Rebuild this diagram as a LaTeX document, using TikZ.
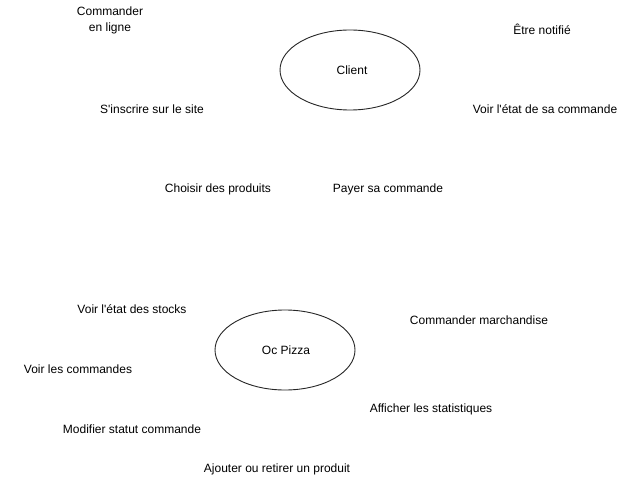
\documentclass[tikz,border=0pt]{standalone}
\usepackage{fontspec}
\setmainfont{Liberation Sans}
\usetikzlibrary{shapes.geometric}
\begin{document}
\begin{tikzpicture}[x=1pt,y=-1pt,
  lbl/.style={inner sep=0pt, align=center, font=\fontsize{12}{16}\selectfont},
  actor/.style={draw=black!85, line width=0.9pt, ellipse, minimum width=140pt, minimum height=80pt, inner sep=0pt}]
\fill[white] (0,0) rectangle (636,481);
\useasboundingbox (0,0) rectangle (636,481);
\node[actor] (client) at (350,70) {};
\node[lbl] (clientlbl) at (352,70) {Client};
\node[actor] (ocpizza) at (285,350) {};
\node[lbl] (ocpizzalbl) at (286,350) {Oc Pizza};
\node[lbl] (cmdligne) at (110,20) {Commander\\en ligne};
\node[lbl] (notifie) at (542,29) {Être notifié};
\node[lbl] (inscrire) at (152,109) {S\textquotesingle inscrire sur le site};
\node[lbl] (etatcmd) at (545,109) {Voir l\textquotesingle état de sa commande};
\node[lbl] (choisir) at (218,189) {Choisir des produits};
\node[lbl] (payer) at (388,189) {Payer sa commande};
\node[lbl] (stocks) at (132,309) {Voir l\textquotesingle état des stocks};
\node[lbl] (marchandise) at (479,320) {Commander marchandise};
\node[lbl] (voircmd) at (78,369) {Voir les commandes};
\node[lbl] (stats) at (431,409) {Afficher les statistiques};
\node[lbl] (statut) at (132,429) {Modifier statut commande};
\node[lbl] (ajouter) at (277,469) {Ajouter ou retirer un produit};
\end{tikzpicture}
\end{document}
